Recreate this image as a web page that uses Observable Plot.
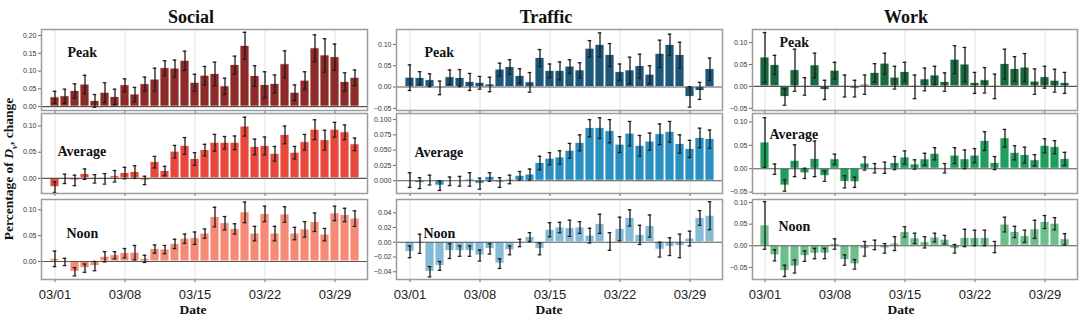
<!DOCTYPE html>
<html><head><meta charset="utf-8">
<script src="https://cdn.jsdelivr.net/npm/d3@7"></script>
<script src="https://cdn.jsdelivr.net/npm/@observablehq/plot@0.6"></script>
<style>
body{margin:0;background:#fff;}
#root{position:relative;width:1079px;height:316px;overflow:hidden;}
.abs{position:absolute;white-space:nowrap;}
.title{font-family:"Liberation Serif",serif;font-weight:bold;font-size:18px;color:#111;transform:translate(-50%,-50%);}
.date{font-family:"Liberation Serif",serif;font-weight:bold;font-size:13.5px;color:#111;transform:translate(-50%,-50%);}
.ylab{font-family:"Liberation Serif",serif;font-weight:bold;font-size:13.5px;color:#111;transform:translate(-50%,-50%) rotate(-90deg);}
</style></head><body><div id="root"></div>
<script>
const dates = ["03/01","03/02","03/03","03/04","03/05","03/06","03/07","03/08","03/09","03/10","03/11","03/12","03/13","03/14","03/15","03/16","03/17","03/18","03/19","03/20","03/21","03/22","03/23","03/24","03/25","03/26","03/27","03/28","03/29","03/30","03/31"];
const tickDates = ["03/01","03/08","03/15","03/22","03/29"];
const categories = ["Social","Traffic","Work"];
const periods = ["Peak","Average","Noon"];

const socialPeak = [0.026,0.029,0.044,0.062,0.016,0.039,0.027,0.060,0.034,0.063,0.076,0.108,0.107,0.129,0.067,0.087,0.092,0.057,0.117,0.171,0.086,0.061,0.064,0.119,0.039,0.073,0.164,0.144,0.139,0.069,0.081];
const socialPeakErr = [0.017,0.020,0.020,0.026,0.018,0.028,0.022,0.018,0.020,0.020,0.032,0.021,0.024,0.027,0.024,0.026,0.033,0.023,0.025,0.038,0.029,0.037,0.025,0.038,0.022,0.025,0.038,0.047,0.037,0.026,0.022];
const socialAvg = [-0.017,-0.001,-0.004,0.008,-0.001,-0.001,0.004,0.010,0.012,-0.004,0.031,0.014,0.051,0.062,0.037,0.054,0.068,0.068,0.068,0.099,0.060,0.062,0.047,0.083,0.049,0.069,0.093,0.073,0.093,0.088,0.065];
const socialAvgErr = [0.010,0.009,0.010,0.010,0.008,0.010,0.011,0.011,0.012,0.008,0.011,0.009,0.012,0.016,0.012,0.011,0.016,0.012,0.013,0.018,0.015,0.017,0.014,0.017,0.012,0.015,0.019,0.019,0.014,0.014,0.012];
const socialNoon = [0.005,-0.001,-0.020,-0.013,-0.009,0.009,0.012,0.016,0.017,0.005,0.024,0.023,0.034,0.044,0.045,0.054,0.086,0.074,0.063,0.095,0.054,0.092,0.054,0.091,0.054,0.062,0.076,0.052,0.093,0.090,0.083];
const socialNoonErr = [0.015,0.007,0.008,0.008,0.009,0.010,0.007,0.009,0.014,0.007,0.008,0.008,0.009,0.009,0.012,0.009,0.019,0.013,0.010,0.020,0.014,0.015,0.014,0.015,0.012,0.015,0.018,0.012,0.014,0.013,0.015];

const trafficPeak = [0.022,0.021,0.016,-0.002,0.023,0.021,0.012,0.010,0.006,0.041,0.047,0.026,0.011,0.068,0.038,0.038,0.048,0.039,0.090,0.099,0.075,0.035,0.039,0.049,0.029,0.078,0.099,0.075,-0.023,-0.009,0.042];
const trafficPeakErr = [0.030,0.015,0.015,0.016,0.017,0.020,0.020,0.015,0.017,0.015,0.017,0.017,0.023,0.020,0.016,0.021,0.016,0.018,0.019,0.028,0.027,0.019,0.031,0.028,0.021,0.032,0.025,0.030,0.024,0.020,0.026];
const trafficAvg = [0.001,-0.004,0.001,-0.008,-0.001,-0.001,0.002,-0.005,0.006,-0.003,0.002,0.008,0.010,0.029,0.036,0.038,0.049,0.062,0.086,0.086,0.081,0.059,0.077,0.057,0.064,0.076,0.080,0.060,0.052,0.070,0.068];
const trafficAvgErr = [0.012,0.009,0.008,0.008,0.007,0.008,0.011,0.009,0.007,0.008,0.007,0.007,0.009,0.011,0.010,0.011,0.012,0.013,0.014,0.017,0.019,0.013,0.020,0.017,0.014,0.017,0.017,0.015,0.014,0.016,0.015];
const trafficNoon = [-0.013,-0.002,-0.040,-0.032,-0.012,-0.012,-0.012,-0.018,-0.009,-0.029,-0.011,-0.001,0.007,-0.009,0.017,0.020,0.019,0.020,0.009,0.025,0.001,0.018,0.033,0.010,0.022,-0.010,-0.006,-0.005,0.005,0.033,0.036];
const trafficNoonErr = [0.008,0.013,0.007,0.006,0.010,0.007,0.007,0.0075,0.007,0.0065,0.006,0.005,0.006,0.008,0.0095,0.007,0.011,0.008,0.010,0.013,0.012,0.016,0.011,0.013,0.015,0.010,0.012,0.016,0.010,0.010,0.019];

const workPeak = [0.066,0.049,-0.024,0.037,0.000,0.048,-0.008,0.036,0.001,-0.005,0.004,0.031,0.052,0.020,0.033,-0.001,0.016,0.025,0.010,0.061,0.050,0.008,0.014,0.000,0.051,0.040,0.043,0.011,0.021,0.013,0.008];
const workPeakErr = [0.057,0.022,0.019,0.048,0.020,0.028,0.022,0.019,0.025,0.019,0.022,0.021,0.024,0.026,0.022,0.027,0.026,0.021,0.021,0.032,0.039,0.024,0.029,0.028,0.034,0.028,0.032,0.029,0.025,0.026,0.024];
const workAvg = [0.056,-0.001,-0.036,0.017,-0.010,0.021,-0.016,0.020,-0.028,-0.029,0.011,0.001,0.002,0.012,0.024,0.009,0.020,0.032,0.001,0.028,0.020,0.028,0.059,0.012,0.065,0.034,0.029,0.018,0.049,0.046,0.021];
const workAvgErr = [0.053,0.011,0.012,0.034,0.011,0.038,0.011,0.011,0.013,0.011,0.014,0.010,0.012,0.014,0.014,0.010,0.013,0.013,0.010,0.017,0.020,0.015,0.020,0.014,0.019,0.015,0.017,0.012,0.015,0.014,0.014];
const workNoon = [0.047,-0.022,-0.058,-0.048,-0.024,-0.018,-0.018,0.004,-0.033,-0.043,-0.007,0.002,-0.006,0.005,0.032,0.017,0.008,0.019,0.014,-0.007,0.018,0.018,0.018,-0.003,0.049,0.032,0.022,0.038,0.055,0.051,0.015];
const workNoonErr = [0.055,0.013,0.013,0.015,0.012,0.012,0.012,0.012,0.012,0.011,0.017,0.011,0.011,0.016,0.012,0.012,0.013,0.010,0.010,0.010,0.020,0.018,0.018,0.013,0.017,0.013,0.014,0.021,0.015,0.014,0.013];

const yTicksSocialPeak = [0, 0.05, 0.10, 0.15, 0.20];
const yTicksSocialLow = [0, 0.05, 0.10];
const yTicksTrafficPeak = [-0.05, 0, 0.05, 0.10];
const yTicksTrafficAvg = [0, 0.025, 0.05, 0.075, 0.10];
const yTicksTrafficNoon = [-0.04, -0.02, 0, 0.02, 0.04];
const yTicksWork = [-0.05, 0, 0.05, 0.10];

const root = document.getElementById("root");

const cols = [
  {L: 41, R: 367, titleX: 191, dateX: 193, colors: ["#8e2a27", "#e8483b", "#f58a76"]},
  {L: 396, R: 722, titleX: 546, dateX: 549, colors: ["#1e5878", "#2a8fc1", "#86bbd8"]},
  {L: 752, R: 1077, titleX: 906, dateX: 901, colors: ["#1b693f", "#1f9e5e", "#6cbf8b"]}
];
const rows = [{T: 29, B: 110}, {T: 113, B: 193}, {T: 199, B: 279}];

const panels = [
  [
    {vals: socialPeak, errs: socialPeakErr, domain: [-0.011, 0.217], ticks: yTicksSocialPeak, fmt: ".2f", lab: [26, 23]},
    {vals: socialAvg, errs: socialAvgErr, domain: [-0.029, 0.124], ticks: yTicksSocialLow, fmt: ".2f", lab: [16, 38]},
    {vals: socialNoon, errs: socialNoonErr, domain: [-0.035, 0.12], ticks: yTicksSocialLow, fmt: ".2f", lab: [25, 34]}
  ],
  [
    {vals: trafficPeak, errs: trafficPeakErr, domain: [-0.055, 0.135], ticks: yTicksTrafficPeak, fmt: ".2f", lab: [28, 23]},
    {vals: trafficAvg, errs: trafficAvgErr, domain: [-0.021, 0.110], ticks: yTicksTrafficAvg, fmt: ".3f", lab: [18, 39]},
    {vals: trafficNoon, errs: trafficNoonErr, domain: [-0.0505, 0.058], ticks: yTicksTrafficNoon, fmt: ".2f", lab: [27, 34]}
  ],
  [
    {vals: workPeak, errs: workPeakErr, domain: [-0.055, 0.13], ticks: yTicksWork, fmt: ".2f", lab: [27, 13]},
    {vals: workAvg, errs: workAvgErr, domain: [-0.053, 0.118], ticks: yTicksWork, fmt: ".2f", lab: [17, 21]},
    {vals: workNoon, errs: workNoonErr, domain: [-0.078, 0.107], ticks: yTicksWork, fmt: ".2f", lab: [26, 27]}
  ]
];

function addDiv(cls, text, x, y, html) {
  const d = document.createElement("div");
  d.className = "abs " + cls;
  if (html) d.innerHTML = text; else d.textContent = text;
  d.style.left = x + "px";
  d.style.top = y + "px";
  root.appendChild(d);
}

cols.forEach((col, ci) => {
  rows.forEach((row, ri) => {
    const cfg = panels[ci][ri];
    const bottom = ri === 2;
    const ml = 40, mr = 2, mt = 2, mb = bottom ? 28 : 5;
    const w = col.R - col.L + ml + mr;
    const h = row.B - row.T + mt + mb;
    const data = dates.map((d, i) => ({d, v: cfg.vals[i], e: cfg.errs[i]}));
    const errCol = "#1c1c1c";
    const chart = Plot.plot({
      width: w, height: h,
      marginLeft: ml, marginRight: mr, marginTop: mt, marginBottom: mb,
      style: {background: "transparent", overflow: "visible", fontFamily: "Liberation Sans, sans-serif", fontSize: "7px"},
      x: {domain: dates, padding: 0.1, axis: null},
      y: {domain: cfg.domain, axis: null},
      marks: [
        Plot.ruleX(tickDates, {x: d => d, stroke: "#e2e2e2", strokeWidth: 1}),
        Plot.barY(data, {x: "d", y: "v", fill: col.colors[ri], stroke: "white", strokeWidth: 0.8}),
        Plot.ruleY([0], {stroke: "#555", strokeWidth: 1.1}),
        Plot.ruleX(data, {x: "d", y1: d => d.v - d.e, y2: d => d.v + d.e, stroke: errCol, strokeWidth: 1.3}),
        Plot.tickY(data, {x: "d", y: d => d.v - d.e, insetLeft: 2.7, insetRight: 2.7, stroke: errCol, strokeWidth: 1.3}),
        Plot.tickY(data, {x: "d", y: d => d.v + d.e, insetLeft: 2.7, insetRight: 2.7, stroke: errCol, strokeWidth: 1.3}),
        Plot.axisY(cfg.ticks, {tickFormat: d3.format(cfg.fmt), tickSize: 3, tickPadding: 2, fontSize: 7, fill: "#333", stroke: "#666", label: null}),
        bottom
          ? Plot.axisX(tickDates, {tickSize: 3, tickPadding: 7, fontSize: 13, fill: "#222", stroke: "#666", label: null, fontFamily: "Liberation Sans, sans-serif"})
          : Plot.axisX(tickDates, {tickSize: 3, tickFormat: () => "", stroke: "#666", label: null}),
        Plot.frame({stroke: "#9c9c9c", strokeWidth: 1.5}),
        Plot.text([periods[ri]], {frameAnchor: "top-left", dx: cfg.lab[0], dy: cfg.lab[1], textAnchor: "start", lineAnchor: "middle", fontFamily: "Liberation Serif, serif", fontWeight: "bold", fontSize: 14, fill: "#111"})
      ]
    });
    chart.style.position = "absolute";
    chart.style.left = (col.L - ml) + "px";
    chart.style.top = (row.T - mt) + "px";
    root.appendChild(chart);
  });
  addDiv("title", categories[ci], col.titleX, 17);
  addDiv("date", "Date", col.dateX, 310);
});

addDiv("ylab", "Percentage of <i>D</i><sub style=\"font-size:9px\"><i>v</i></sub>, change", 10, 169, true);
</script>
</body></html>
